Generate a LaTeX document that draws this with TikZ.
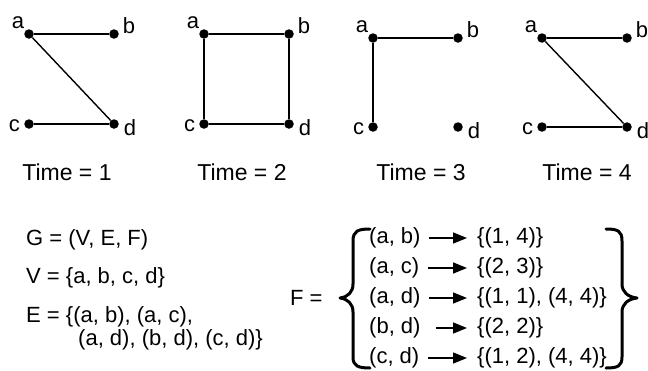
\documentclass[tikz,border=0pt]{standalone}
\usepackage{fontspec}
\setmainfont{Liberation Sans}
\usetikzlibrary{arrows.meta}
\tikzset{
  vtx/.style={circle,fill=black,inner sep=0pt,minimum size=9.5pt},
  vlab/.style={inner sep=0pt,font=\fontsize{22}{24}\selectfont},
  edge/.style={line width=1.4pt},
  timelab/.style={anchor=base,inner sep=0pt,font=\fontsize{23}{28}\selectfont},
  formula/.style={anchor=base west,inner sep=0pt,font=\fontsize{22}{30}\selectfont},
  brace/.style={line width=3pt,line cap=round,line join=round},
  maparrow/.style={line width=1.5pt,-{Triangle[length=14pt,width=11pt]}}
}
\newcommand{\onegraph}[5]{%
  % #1 prefix, #2 x left, #3 x right, #4 y top, #5 y bottom
  \node[vtx] (#1a) at (#2,#4) {};
  \node[vtx] (#1b) at (#3,#4) {};
  \node[vtx] (#1c) at (#2,#5) {};
  \node[vtx] (#1d) at (#3,#5) {};
  \node[vlab] (#1la) at ([xshift=-11pt,yshift=11.5pt]#1a.center) {a};
  \node[vlab] (#1lb) at ([xshift=15pt,yshift=8pt]#1b.center) {b};
  \node[vlab] (#1lc) at ([xshift=-14.5pt,yshift=-2pt]#1c.center) {c};
  \node[vlab] (#1ld) at ([xshift=16pt,yshift=-4pt]#1d.center) {d};
}
\begin{document}
\begin{tikzpicture}[x=1pt,y=-1pt]
\useasboundingbox (0,0) rectangle (648,370);

% graphs
\onegraph{g1}{29}{114}{34}{124}
\onegraph{g2}{204}{289}{34}{124}
\onegraph{g3}{373}{458}{38}{127}
\onegraph{g4}{542}{627}{38}{127}

\draw[edge] (g1a) -- (g1b);
\draw[edge] (g1a) -- (g1d);
\draw[edge] (g1c) -- (g1d);

\draw[edge] (g2a) -- (g2b);
\draw[edge] (g2a) -- (g2c);
\draw[edge] (g2b) -- (g2d);
\draw[edge] (g2c) -- (g2d);

\draw[edge] (g3a) -- (g3b);
\draw[edge] (g3a) -- (g3c);

\draw[edge] (g4a) -- (g4b);
\draw[edge] (g4a) -- (g4d);
\draw[edge] (g4c) -- (g4d);

\node[timelab] (t1) at (67,180) {Time = 1};
\node[timelab] (t2) at (242,180) {Time = 2};
\node[timelab] (t3) at (421,180) {Time = 3};
\node[timelab] (t4) at (587,180) {Time = 4};

% left formulas
\node[formula] (G) at (26,245) {G = (V, E, F)};
\node[formula] (V) at (26,283) {V = \{a, b, c, d\}};
\node[formula] (E1) at (26,322) {E = \{(a, b), (a, c),};
\node[formula] (E2) at (78,345) {(a, d), (b, d), (c, d)\}};

% F
\node[formula] (F) at (290,305) {F =};

\node[formula] (p1) at (369,243.5) {(a, b)};
\node[formula] (p2) at (369,273.5) {(a, c)};
\node[formula] (p3) at (369,303.5) {(a, d)};
\node[formula] (p4) at (369,333.5) {(b, d)};
\node[formula] (p5) at (369,363.5) {(c, d)};

\node[formula] (s1) at (477,243.5) {\{(1, 4)\}};
\node[formula] (s2) at (477,273.5) {\{(2, 3)\}};
\node[formula] (s3) at (477,303.5) {\{(1, 1), (4, 4)\}};
\node[formula] (s4) at (477,333.5) {\{(2, 2)\}};
\node[formula] (s5) at (477,363.5) {\{(1, 2), (4, 4)\}};

\draw[maparrow] ([xshift=8pt,yshift=5.5pt]p1.base east) -- ([xshift=-10pt,yshift=5.5pt]s1.base west);
\draw[maparrow] ([xshift=8pt,yshift=5.5pt]p2.base east) -- ([xshift=-10pt,yshift=5.5pt]s2.base west);
\draw[maparrow] ([xshift=8pt,yshift=5.5pt]p3.base east) -- ([xshift=-10pt,yshift=5.5pt]s3.base west);
\draw[maparrow] ([xshift=15pt,yshift=5.5pt]p4.base east) -- ([xshift=-10pt,yshift=5.5pt]s4.base west);
\draw[maparrow] ([xshift=8pt,yshift=5.5pt]p5.base east) -- ([xshift=-10pt,yshift=5.5pt]s5.base west);

% braces
\draw[brace] (370,229) .. controls (358,229) and (353,231) .. (353,241)
  -- (353,284) .. controls (353,292) and (348,297) .. (340,298)
  .. controls (348,299) and (353,304) .. (353,312)
  -- (353,357) .. controls (353,366) and (358,368) .. (370,368);
\draw[brace] (606,229) .. controls (618,229) and (622,231) .. (622,241)
  -- (622,284) .. controls (622,292) and (628,297) .. (637,298)
  .. controls (628,299) and (622,304) .. (622,312)
  -- (622,357) .. controls (622,366) and (618,368) .. (606,368);
\end{tikzpicture}
\end{document}
